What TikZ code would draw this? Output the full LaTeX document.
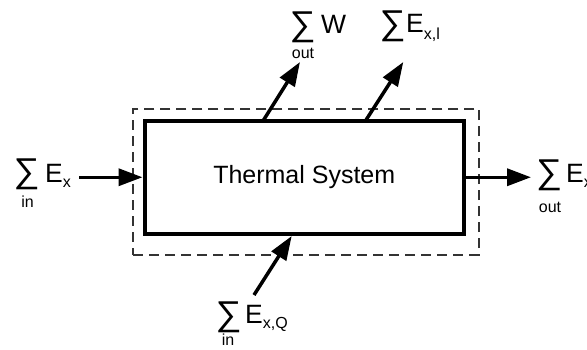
\documentclass[tikz,border=0pt]{standalone}
\usepackage{fontspec}
\usepackage{graphicx}
\setmainfont{Liberation Sans}
\usetikzlibrary{arrows.meta}
\newcommand\bigsum{\resizebox*{26pt}{31pt}{∑}}
\newcommand\lowsub[2][5pt]{{\fontsize{16}{18}\selectfont\raisebox{-#1}{#2}}}
\begin{document}
\begin{tikzpicture}[x=1pt,y=-1pt,
  sysbox/.style={draw=black, line width=4pt, minimum width=319.5pt, minimum height=113.5pt, inner sep=0pt, font=\fontsize{25}{30}\selectfont},
  bound/.style={draw=black!80, line width=2pt, dash pattern=on 10pt off 6pt, minimum width=345.7pt, minimum height=145.5pt, inner sep=0pt},
  flow/.style={line width=3.5pt, -{Triangle[length=24pt,width=17pt]}},
  sigma/.style={inner sep=0pt},
  qty/.style={inner sep=0pt, anchor=base west, font=\fontsize{26.5}{30}\selectfont},
  lim/.style={inner sep=0pt, anchor=base, font=\fontsize{16}{18}\selectfont},
]
\useasboundingbox (0,0) rectangle (587,349);
\node[bound] (bnd) at (306.2,181.75) {};
\node[sysbox] (sys) at (304.25,177.25) {Thermal System};

% left input
\node[sigma] (sL) at (26.5,174) {\bigsum};
\node[qty] (eL) at (45,182) {E\lowsub{x}};
\node[lim] (lL) at (27.5,207) {in};
% top work output
\node[sigma] (sT1) at (302.5,27.5) {\bigsum};
\node[qty] (eT1) at (321,33) {W};
\node[lim] (lT1) at (303,58) {out};
% top loss
\node[sigma] (sT2) at (392.5,26) {\bigsum};
\node[qty] (eT2) at (406,32) {E\lowsub[7pt]{x,l}};
% right output
\node[sigma] (sR) at (549,175) {\bigsum};
\node[qty] (eR) at (566,182) {E\lowsub{x}};
\node[lim] (lR) at (550,212) {out};
% bottom heat input
\node[sigma] (sB) at (228.5,317.5) {\bigsum};
\node[qty] (eB) at (245,323) {E\lowsub{x,Q}};
\node[lim] (lB) at (228,345.5) {in};

\coordinate (inTail) at (79,177.25);
\coordinate (outHead) at (531,177.25);
\coordinate (wTail) at (263.3,120.5);
\coordinate (wHead) at (300,62);
\coordinate (lTail) at (365.7,120.5);
\coordinate (lHead) at (403.3,62);
\coordinate (qTail) at (254,295);
\coordinate (qHead) at (291.7,236);

\draw[flow] (inTail) -- (sys.west);
\draw[flow] (sys.east) -- (outHead);
\draw[flow] (wTail) -- (wHead);
\draw[flow] (lTail) -- (lHead);
\draw[flow] (qTail) -- (qHead);
\end{tikzpicture}
\end{document}
